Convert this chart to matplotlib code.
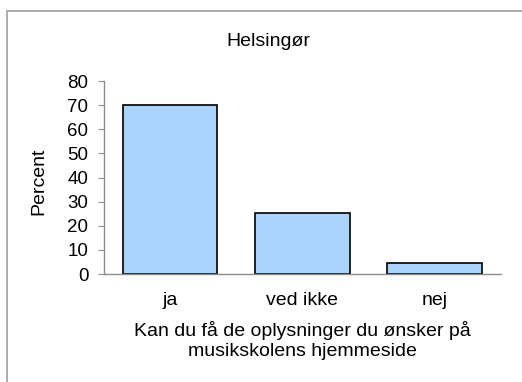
import matplotlib.pyplot as plt
from matplotlib.patches import Rectangle

plt.rcParams['font.family'] = ['Liberation Sans', 'DejaVu Sans']

# Svarfordeling
kategorier = ['ja', 'ved ikke', 'nej']
procent = [70.0, 25.4, 4.7]
y_ticks = [0, 10, 20, 30, 40, 50, 60, 70, 80]

fig = plt.figure(figsize=(5.22, 3.82), dpi=100)
ax = fig.add_axes([0.1988, 0.2827, 0.761, 0.5052])

# ramme om diagrammet
fig.patches.append(Rectangle((7 / 522, -0.1), 1.2, 1.1 - 11 / 382,
                             transform=fig.transFigure, fill=False,
                             edgecolor='#a6a6a6', linewidth=1.3))

x = range(len(kategorier))
ax.bar(x, procent, width=0.717, color='#a9d4fd', edgecolor='black', linewidth=1.2)

ax.set_xlim(-0.5, 2.5)
ax.set_ylim(0, 80)
ax.set_yticks(y_ticks)
ax.set_xticks(list(x))
ax.set_xticklabels(kategorier)

for side in ['top', 'right']:
    ax.spines[side].set_visible(False)
for side in ['left', 'bottom']:
    ax.spines[side].set_color('#8c8c8c')
    ax.spines[side].set_linewidth(1.0)

fs = 14
ax.tick_params(axis='y', length=4, color='#8c8c8c', labelsize=13.5, pad=7)
ax.tick_params(axis='x', length=0, labelsize=fs, pad=13)

ax.set_ylabel('Percent', fontsize=fs)
ax.yaxis.set_label_coords(-0.143, 0.479)
ax.set_xlabel('Kan du få de oplysninger du ønsker på\nmusikskolens hjemmeside',
              fontsize=fs, linespacing=1.2)
ax.xaxis.set_label_coords(0.5, -0.245)

fig.text(268 / 522, 1 - 42 / 382, 'Helsingør', fontsize=fs, ha='center', va='center')

fig.savefig('out.png', dpi=100)
